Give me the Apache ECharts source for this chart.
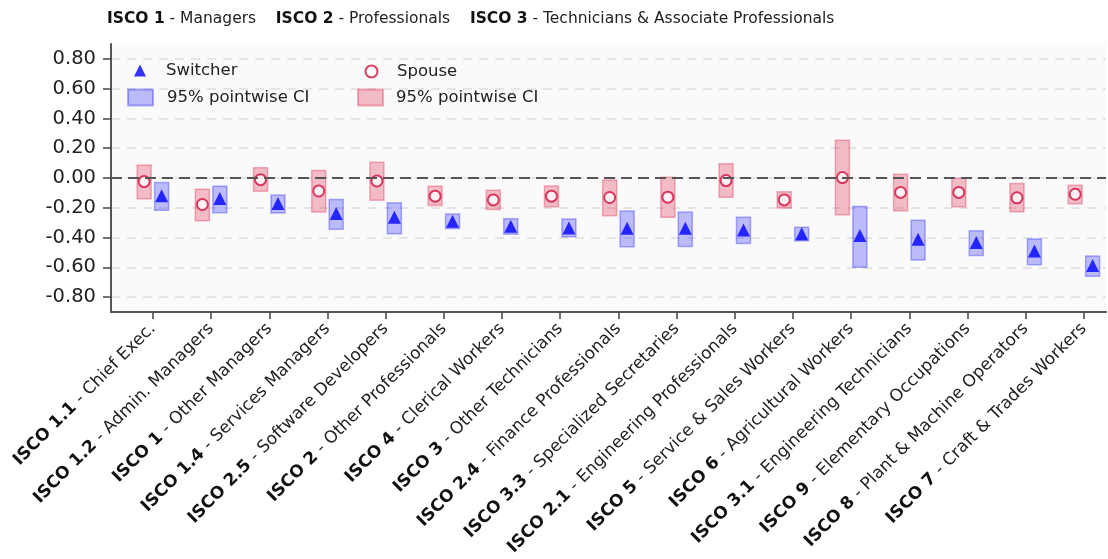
<!DOCTYPE html>
<html>
<head>
<meta charset="utf-8">
<script src="https://cdn.jsdelivr.net/npm/echarts@6/dist/echarts.min.js"></script>
<style>
  html, body { margin: 0; padding: 0; background: #fff; }
  #main { width: 1108px; height: 559px; }
</style>
</head>
<body>
<div id="main"></div>
<script>
// ISCO group codes and occupation names (x axis)
var codes = ["ISCO 1.1", "ISCO 1.2", "ISCO 1", "ISCO 1.4", "ISCO 2.5", "ISCO 2", "ISCO 4", "ISCO 3",
  "ISCO 2.4", "ISCO 3.3", "ISCO 2.1", "ISCO 5", "ISCO 6", "ISCO 3.1", "ISCO 9", "ISCO 8", "ISCO 7"];
var categories = ["Chief Exec.", "Admin. Managers", "Other Managers", "Services Managers", "Software Developers",
  "Other Professionals", "Clerical Workers", "Other Technicians", "Finance Professionals", "Specialized Secretaries",
  "Engineering Professionals", "Service & Sales Workers", "Agricultural Workers", "Engineering Technicians",
  "Elementary Occupations", "Plant & Machine Operators", "Craft & Trades Workers"];

// spouse estimates + 95% CI
var spouseEst = [-0.024, -0.178, -0.011, -0.087, -0.020, -0.122, -0.147, -0.122, -0.131, -0.129, -0.017, -0.147, 0.003, -0.097, -0.097, -0.133, -0.109];
var spouseLo = [-0.140, -0.287, -0.089, -0.229, -0.149, -0.184, -0.211, -0.193, -0.253, -0.264, -0.129, -0.202, -0.247, -0.220, -0.193, -0.227, -0.173];
var spouseHi = [0.087, -0.075, 0.069, 0.051, 0.105, -0.055, -0.082, -0.053, -0.013, 0.005, 0.096, -0.093, 0.253, 0.025, -0.002, -0.037, -0.049];

// switcher estimates + 95% CI
var switcherEst = [-0.120, -0.138, -0.171, -0.238, -0.264, -0.291, -0.324, -0.335, -0.338, -0.338, -0.349, -0.375, -0.387, -0.411, -0.433, -0.491, -0.587];
var switcherLo = [-0.217, -0.233, -0.235, -0.344, -0.375, -0.340, -0.377, -0.395, -0.462, -0.460, -0.440, -0.422, -0.600, -0.551, -0.520, -0.582, -0.660];
var switcherHi = [-0.031, -0.055, -0.115, -0.144, -0.167, -0.242, -0.273, -0.275, -0.222, -0.229, -0.264, -0.331, -0.191, -0.284, -0.355, -0.409, -0.524];

var yTicks = [-0.8, -0.6, -0.4, -0.2, 0, 0.2, 0.4, 0.6, 0.8];

var FONT = "DejaVu Sans";
var SPOUSE_OFF = -0.15, SWITCH_OFF = 0.15;
var BOX_W = 14;

var xTicks = [];
var spouseCI = [], switcherCI = [], spousePts = [], switcherPts = [];
for (var i = 0; i < categories.length; i++) {
  xTicks.push(i);
  spouseCI.push([i + SPOUSE_OFF, spouseLo[i], spouseHi[i]]);
  switcherCI.push([i + SWITCH_OFF, switcherLo[i], switcherHi[i]]);
  spousePts.push([i + SPOUSE_OFF, spouseEst[i]]);
  switcherPts.push([i + SWITCH_OFF, switcherEst[i]]);
}

// draws one CI box
function ciBox(params, api) {
  var top = api.coord([api.value(0), api.value(2)]);
  var bot = api.coord([api.value(0), api.value(1)]);
  return {
    type: "rect",
    shape: { x: top[0] - BOX_W / 2, y: top[1], width: BOX_W, height: bot[1] - top[1] },
    style: api.style()
  };
}

var chart = echarts.init(document.getElementById("main"), null, { renderer: "canvas" });

function legText(pad) {
  return { fontFamily: FONT, fontSize: 16.5, color: "#222", padding: [0, 0, 0, pad] };
}
function ciLabel() { return "95% pointwise CI"; }

chart.setOption({
  animation: false,
  title: {
    left: 102, top: 6,
    text: "{b|ISCO 1} - Managers    {b|ISCO 2} - Professionals    {b|ISCO 3} - Technicians & Associate Professionals",
    textStyle: {
      fontFamily: FONT, fontSize: 15.5, fontWeight: "normal", color: "#222",
      rich: { b: { fontFamily: FONT, fontSize: 15.5, fontWeight: "bold", color: "#111" } }
    }
  },
  legend: [
    { left: 129, top: 57, itemWidth: 12, itemHeight: 12, data: [{ name: "Switcher", icon: "triangle" }],
      textStyle: legText(15), selectedMode: false },
    { left: 122, top: 83.5, itemWidth: 25, itemHeight: 16, data: [{ name: "Switcher CI", icon: "rect" }],
      textStyle: legText(9), selectedMode: false, formatter: ciLabel },
    { left: 359.5, top: 58, itemWidth: 12, itemHeight: 12, data: [{ name: "Spouse", icon: "emptyCircle" }],
      textStyle: legText(14.5), selectedMode: false, itemStyle: { borderWidth: 2 } },
    { left: 352, top: 83.5, itemWidth: 25, itemHeight: 16, data: [{ name: "Spouse CI", icon: "rect" }],
      textStyle: legText(8), selectedMode: false, formatter: ciLabel }
  ],
  grid: {
    left: 111, right: 2, top: 44, height: 268,
    show: true, backgroundColor: "#fafafa", borderWidth: 0
  },
  xAxis: {
    type: "value",
    min: -0.72, max: 16.38,
    axisLine: { show: true, onZero: false, lineStyle: { color: "#555", width: 2 } },
    axisTick: { show: true, customValues: xTicks, length: 7, lineStyle: { color: "#444", width: 1.5 } },
    splitLine: { show: false },
    axisLabel: {
      customValues: xTicks,
      rotate: 45,
      margin: 14,
      fontFamily: FONT, fontSize: 17, color: "#222",
      formatter: function (v) {
        var k = Math.round(v);
        return "{b|" + codes[k] + "} - " + categories[k];
      },
      rich: { b: { fontFamily: FONT, fontSize: 17, fontWeight: "bold", color: "#111" } }
    }
  },
  yAxis: {
    type: "value",
    min: -0.9, max: 0.9,
    axisLine: { show: true, onZero: false, lineStyle: { color: "#555", width: 2 } },
    axisTick: { show: true, customValues: yTicks, length: 8, lineStyle: { color: "#444", width: 1.5 } },
    axisLabel: {
      customValues: yTicks,
      margin: 15,
      fontFamily: FONT, fontSize: 19.5, color: "#222",
      formatter: function (v) { return v.toFixed(2); }
    },
    splitLine: { show: true, lineStyle: { color: "#dedede", width: 1.5, type: [9, 7] } }
  },
  series: [
    {
      name: "Spouse CI", type: "custom", renderItem: ciBox, data: spouseCI,
      encode: { x: 0, y: [1, 2] },
      itemStyle: { color: "rgba(220,20,60,0.27)", borderColor: "rgba(220,20,60,0.32)", borderWidth: 1.5 },
      z: 2,
      markLine: {
        silent: true, symbol: "none", label: { show: false },
        lineStyle: { color: "#555", width: 2, type: [11, 6] },
        data: [{ yAxis: 0 }]
      }
    },
    {
      name: "Switcher CI", type: "custom", renderItem: ciBox, data: switcherCI,
      encode: { x: 0, y: [1, 2] },
      itemStyle: { color: "rgba(0,0,255,0.25)", borderColor: "rgba(0,0,255,0.3)", borderWidth: 1.5 },
      z: 2
    },
    {
      name: "Spouse", type: "scatter", data: spousePts,
      symbol: "emptyCircle", symbolSize: 11,
      itemStyle: { color: "#d0103a", borderColor: "#d0103a", borderWidth: 2.2 },
      z: 4
    },
    {
      name: "Switcher", type: "scatter", data: switcherPts,
      symbol: "triangle", symbolSize: 13,
      itemStyle: { color: "#0000ff" },
      z: 4
    }
  ]
});
</script>
</body>
</html>
